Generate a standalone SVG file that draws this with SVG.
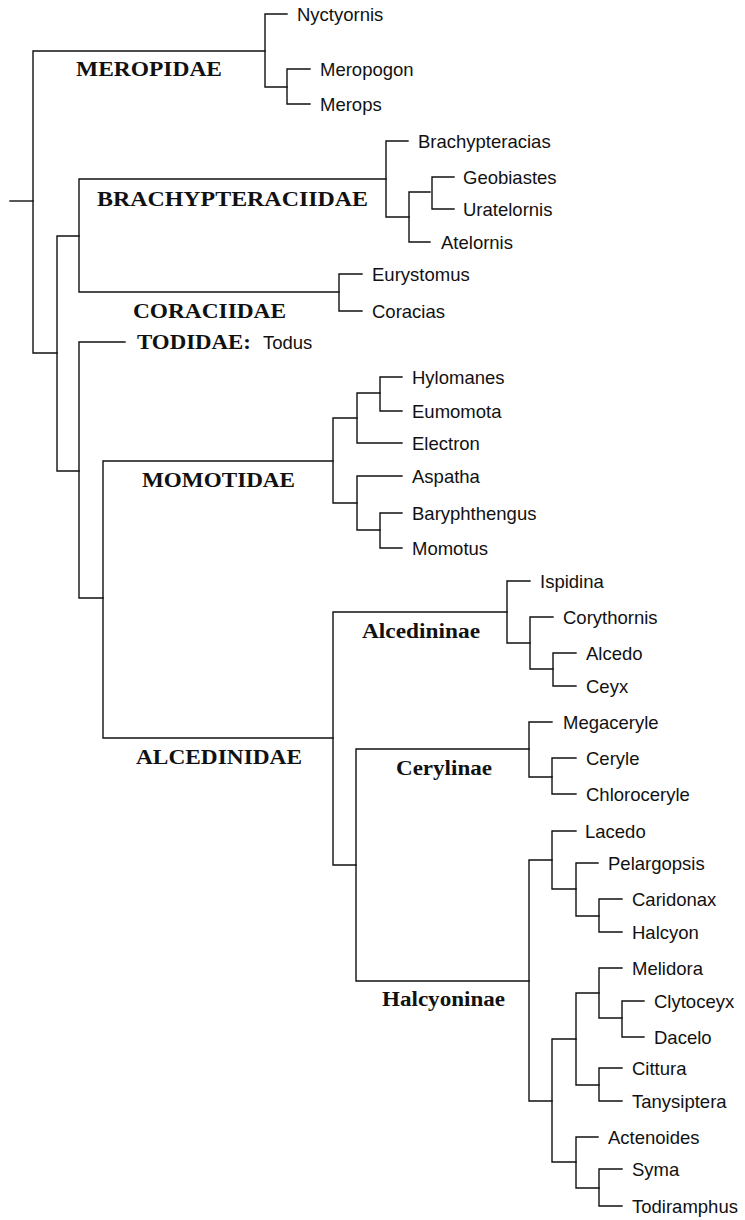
<svg xmlns="http://www.w3.org/2000/svg" width="745" height="1220" viewBox="0 0 745 1220">
<style>
.e{fill:none;stroke:#111;stroke-width:1.4;stroke-linejoin:miter;stroke-linecap:square}
.t{font-family:"Liberation Sans",Arial,sans-serif;font-size:18.5px;fill:#111}
.c{font-family:"Liberation Serif","Times New Roman",serif;font-size:20px;font-weight:bold;fill:#111}
</style>
<rect width="745" height="1220" fill="#fff"/>
<g id="connectors">
<path class="e" d="M10,201 H33"/>
<path class="e" d="M265,51 H33 V353 H57"/>
<path class="e" d="M79,236 H57 V471 H79"/>
<path class="e" d="M386,179 H79 V292 H339"/>
<path class="e" d="M125,342 H79 V598 H103"/>
<path class="e" d="M333,461 H103 V738 H333"/>
<path class="e" d="M287,14 H265 V87 H287"/>
<path class="e" d="M310,69 H287 V104 H310"/>
<path class="e" d="M408,141 H386 V217 H409"/>
<path class="e" d="M430,192 H409 V242 H430"/>
<path class="e" d="M454,177 H432 V209 H454"/>
<path class="e" d="M362,274 H339 V311 H362"/>
<path class="e" d="M357,418 H333 V503 H357"/>
<path class="e" d="M380,393 H357 V443 H402"/>
<path class="e" d="M402,377 H380 V411 H402"/>
<path class="e" d="M402,476 H357 V530 H380"/>
<path class="e" d="M402,513 H380 V548 H402"/>
<path class="e" d="M507,612 H333 V865 H356"/>
<path class="e" d="M530,581 H507 V643 H530"/>
<path class="e" d="M553,617 H530 V669 H553"/>
<path class="e" d="M576,653 H553 V686 H576"/>
<path class="e" d="M529,749 H356 V981 H529"/>
<path class="e" d="M552,722 H529 V777 H552"/>
<path class="e" d="M576,758 H552 V794 H576"/>
<path class="e" d="M552,860 H529 V1101 H552"/>
<path class="e" d="M576,831 H552 V889 H576"/>
<path class="e" d="M598,863 H576 V916 H599"/>
<path class="e" d="M622,899 H599 V932 H622"/>
<path class="e" d="M576,1039 H552 V1162 H576"/>
<path class="e" d="M599,993 H576 V1085 H599"/>
<path class="e" d="M622,968 H599 V1018 H622"/>
<path class="e" d="M644,1001 H622 V1037 H644"/>
<path class="e" d="M622,1068 H599 V1101 H622"/>
<path class="e" d="M598,1137 H576 V1188 H599"/>
<path class="e" d="M622,1169 H599 V1206 H622"/>
</g>
<g id="clade-labels">
<g id="meropidae"><text class="c" x="76" y="76" textLength="146" lengthAdjust="spacingAndGlyphs">MEROPIDAE</text></g>
<g id="brachypteraciidae"><text class="c" x="97" y="206" textLength="271" lengthAdjust="spacingAndGlyphs">BRACHYPTERACIIDAE</text></g>
<g id="coraciidae"><text class="c" x="133" y="318" textLength="153" lengthAdjust="spacingAndGlyphs">CORACIIDAE</text></g>
<g id="todidae"><text class="c" x="137" y="349" textLength="114" lengthAdjust="spacingAndGlyphs">TODIDAE:</text><text class="t" x="263" y="349">Todus</text></g>
<g id="momotidae"><text class="c" x="142" y="487" textLength="153" lengthAdjust="spacingAndGlyphs">MOMOTIDAE</text></g>
<g id="alcedinidae"><text class="c" x="136" y="764" textLength="166" lengthAdjust="spacingAndGlyphs">ALCEDINIDAE</text></g>
<g id="alcedininae"><text class="c" x="362" y="638" textLength="118" lengthAdjust="spacingAndGlyphs">Alcedininae</text></g>
<g id="cerylinae"><text class="c" x="396" y="775" textLength="96" lengthAdjust="spacingAndGlyphs">Cerylinae</text></g>
<g id="halcyoninae"><text class="c" x="382" y="1006" textLength="123" lengthAdjust="spacingAndGlyphs">Halcyoninae</text></g>
</g>
<g id="leaves">
<g id="nyctyornis"><text class="t" x="297" y="20.5">Nyctyornis</text></g>
<g id="meropogon"><text class="t" x="320" y="75.5">Meropogon</text></g>
<g id="merops"><text class="t" x="320" y="110.5">Merops</text></g>
<g id="brachypteracias"><text class="t" x="418" y="147.5">Brachypteracias</text></g>
<g id="geobiastes"><text class="t" x="463" y="183.5">Geobiastes</text></g>
<g id="uratelornis"><text class="t" x="463" y="215.5">Uratelornis</text></g>
<g id="atelornis"><text class="t" x="441" y="248.5">Atelornis</text></g>
<g id="eurystomus"><text class="t" x="372" y="280.5">Eurystomus</text></g>
<g id="coracias"><text class="t" x="372" y="317.5">Coracias</text></g>
<g id="hylomanes"><text class="t" x="412" y="383.5">Hylomanes</text></g>
<g id="eumomota"><text class="t" x="412" y="417.5">Eumomota</text></g>
<g id="electron"><text class="t" x="412" y="449.5">Electron</text></g>
<g id="aspatha"><text class="t" x="412" y="482.5">Aspatha</text></g>
<g id="baryphthengus"><text class="t" x="412" y="519.5">Baryphthengus</text></g>
<g id="momotus"><text class="t" x="412" y="554.5">Momotus</text></g>
<g id="ispidina"><text class="t" x="540" y="587.5">Ispidina</text></g>
<g id="corythornis"><text class="t" x="563" y="623.5">Corythornis</text></g>
<g id="alcedo"><text class="t" x="586" y="659.5">Alcedo</text></g>
<g id="ceyx"><text class="t" x="586" y="692.5">Ceyx</text></g>
<g id="megaceryle"><text class="t" x="563" y="728.5">Megaceryle</text></g>
<g id="ceryle"><text class="t" x="586" y="764.5">Ceryle</text></g>
<g id="chloroceryle"><text class="t" x="586" y="800.5">Chloroceryle</text></g>
<g id="lacedo"><text class="t" x="585" y="837.5">Lacedo</text></g>
<g id="pelargopsis"><text class="t" x="608" y="869.5">Pelargopsis</text></g>
<g id="caridonax"><text class="t" x="632" y="905.5">Caridonax</text></g>
<g id="halcyon"><text class="t" x="632" y="938.5">Halcyon</text></g>
<g id="melidora"><text class="t" x="632" y="974.5">Melidora</text></g>
<g id="clytoceyx"><text class="t" x="654" y="1007.5">Clytoceyx</text></g>
<g id="dacelo"><text class="t" x="654" y="1043.5">Dacelo</text></g>
<g id="cittura"><text class="t" x="632" y="1074.5">Cittura</text></g>
<g id="tanysiptera"><text class="t" x="632" y="1107.5">Tanysiptera</text></g>
<g id="actenoides"><text class="t" x="608" y="1143.5">Actenoides</text></g>
<g id="syma"><text class="t" x="632" y="1175.5">Syma</text></g>
<g id="todiramphus"><text class="t" x="632" y="1212.5">Todiramphus</text></g>
</g>
</svg>
